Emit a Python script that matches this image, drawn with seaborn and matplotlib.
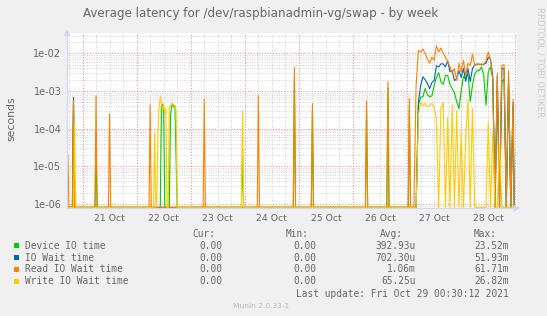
import numpy as np
import pandas as pd
import matplotlib
matplotlib.use("Agg")
import matplotlib.pyplot as plt
import matplotlib.dates as mdates
from matplotlib.ticker import LogLocator, FuncFormatter, NullFormatter
from matplotlib.patches import Rectangle
import seaborn as sns

# ---------------- data ----------------
series_names = ["Device IO time", "IO Wait time", "Read IO Wait time", "Write IO Wait time"]
series_colors = ["#00CC00", "#0066B3", "#FF8000", "#FFCC00"]

# isolated spikes (30-minute samples), seconds
device_spike_times = ["2021-10-20 20:00", "2021-10-21 06:00", "2021-10-22 11:00", "2021-10-22 11:30",
                      "2021-10-22 12:00", "2021-10-22 15:00", "2021-10-22 15:30", "2021-10-22 16:00",
                      "2021-10-22 16:30", "2021-10-22 17:00", "2021-10-22 17:30", "2021-10-23 23:00",
                      "2021-10-24 22:00", "2021-10-25 06:00", "2021-10-26 06:00", "2021-10-26 15:30",
                      "2021-10-27 01:00"]
device_spike_values = [5.5e-4, 2e-5, 4e-4, 4.5e-4, 3e-4, 2e-4, 4e-4, 4.5e-4, 3.8e-4, 4e-4, 2e-5, 2e-5,
                       2.5e-3, 3e-4, 3e-4, 1.2e-3, 4e-4]

iowait_spike_times = ["2021-10-20 20:00"]
iowait_spike_values = [6.8e-4]

read_spike_times = ["2021-10-20 17:30", "2021-10-20 20:00", "2021-10-21 06:00", "2021-10-21 12:00",
                    "2021-10-22 06:00", "2021-10-23 06:00", "2021-10-24 06:00", "2021-10-24 22:00",
                    "2021-10-25 06:00", "2021-10-26 06:00", "2021-10-26 15:30", "2021-10-27 01:00"]
read_spike_values = [2e-5, 5.5e-4, 7.5e-4, 2.5e-4, 4.3e-4, 6.1e-4, 7.5e-4, 4.3e-3, 4.7e-4, 5.5e-4,
                     1.8e-3, 6.3e-4]

write_spike_times = ["2021-10-20 20:30", "2021-10-22 08:00", "2021-10-22 09:00", "2021-10-22 09:30",
                     "2021-10-22 10:00", "2021-10-22 10:30", "2021-10-22 11:00", "2021-10-22 11:30",
                     "2021-10-22 12:00", "2021-10-22 12:30", "2021-10-22 13:00", "2021-10-22 14:30",
                     "2021-10-22 15:00", "2021-10-22 15:30", "2021-10-22 16:00", "2021-10-22 16:30",
                     "2021-10-22 17:00", "2021-10-22 17:30", "2021-10-23 23:00"]
write_spike_values = [1.4e-4, 7.4e-5, 1.5e-6, 1e-4, 4e-4, 7.2e-4, 5e-4, 3e-4, 4.5e-4, 2.5e-4, 3.5e-4,
                      3.8e-4, 4e-4, 4.8e-4, 4.5e-4, 4.2e-4, 4e-4, 3e-4, 3e-4]

# busy period, hourly samples from 2021-10-27 03:00 to 2021-10-28 23:00
device_busy = [0, 0, 4.2e-4, 7e-4, 7e-4, 1.17e-3, 8.1e-4, 7e-4, 7.5e-4, 1.4e-3,
               2.3e-3, 3.1e-3, 1.75e-3, 1.5e-3, 2.6e-3, 2.6e-3, 1.5e-3, 1.17e-3, 9e-4, 5.2e-4,
               3.4e-4, 1.0e-3, 2.5e-3, 2.1e-3, 2.9e-3, 5.3e-4, 1.4e-3, 2.9e-3, 3.5e-3, 3.5e-3,
               4.4e-3, 2.6e-3, 4.2e-4, 3.2e-3, 4.4e-3, 2.1e-3, 0, 1.5e-3, 0, 1.75e-3,
               2.1e-3, 0, 1.5e-3, 0, 4e-4]
iowait_busy = [0, 0, 5.2e-4, 1.4e-3, 2.4e-3, 2.0e-3, 1.6e-3, 1.15e-3, 1.7e-3, 1.9e-3,
               4.7e-3, 4.4e-3, 5.3e-3, 5.3e-3, 4.4e-3, 6.4e-3, 3.3e-3, 3.5e-3, 1.9e-3, 2.1e-3,
               3.5e-3, 2.3e-3, 4.0e-3, 1.8e-3, 4.0e-3, 1.8e-3, 4.0e-3, 5.0e-3, 5.2e-3, 5.2e-3,
               5.0e-3, 5.2e-3, 5.5e-3, 8.0e-3, 7.0e-3, 2.6e-3, 0, 2.5e-3, 0, 4.0e-3,
               4.0e-3, 0, 2.5e-3, 0, 5e-4]
read_busy = [0, 1.5e-3, 1.2e-2, 1.1e-2, 1.3e-2, 1.0e-2, 7.0e-3, 5.5e-3, 8.0e-3, 6.5e-3,
             1.6e-2, 1.1e-2, 1.4e-2, 1.0e-2, 8.0e-3, 6.0e-3, 4.5e-3, 3.0e-3, 4.0e-3, 1.9e-3,
             5.5e-3, 3.2e-3, 6.5e-3, 2.6e-3, 5.5e-3, 4.8e-3, 9.5e-3, 4.8e-3, 5.3e-3, 5.0e-3,
             5.3e-3, 5.0e-3, 6.5e-3, 1.1e-2, 7.0e-3, 2.1e-3, 0, 3.0e-3, 0, 4.8e-3,
             5.0e-3, 0, 3.5e-3, 0, 6e-4]
write_busy = [0, 0, 2.3e-4, 5.2e-4, 4.2e-4, 4.7e-4, 3.8e-4, 4.2e-4, 4.7e-4, 3.8e-4,
              1.7e-4, 0, 3.5e-4, 5e-4, 0, 2e-4, 0, 4.5e-4, 0, 3e-4,
              0, 8e-5, 0, 6e-5, 6e-4, 0, 3.5e-4, 0, 0, 0,
              0, 0, 0, 1.5e-4, 0, 8e-5, 0, 0, 4e-5, 0,
              0, 0, 0, 0, 0]

legend_cur = ["0.00", "0.00", "0.00", "0.00"]
legend_min = ["0.00", "0.00", "0.00", "0.00"]
legend_avg = ["392.93u", "702.30u", "1.06m", "65.25u"]
legend_max = ["23.52m", "51.93m", "61.71m", "26.82m"]

title_text = "Average latency for /dev/raspbianadmin-vg/swap - by week"
last_update_text = "Last update: Fri Oct 29 00:30:12 2021"
footer_text = "Munin 2.0.33-1"
side_text = "RRDTOOL / TOBI OETIKER"

# ---------------- build frame ----------------
quiet_idx = pd.date_range("2021-10-20 17:00", "2021-10-27 02:30", freq="30min").append(
    pd.date_range("2021-10-28 23:30", "2021-10-29 00:30", freq="30min"))
busy_idx = pd.date_range("2021-10-27 03:00", periods=45, freq="1h")


def build(name, spike_t, spike_v, busy):
    s = pd.Series(0.0, index=quiet_idx)
    s.loc[pd.to_datetime(spike_t)] = spike_v
    s = pd.concat([s, pd.Series(busy, index=busy_idx, dtype=float)]).sort_index()
    return pd.DataFrame({"time": s.index, "value": s.values, "series": name})


df = pd.concat([
    build(series_names[0], device_spike_times, device_spike_values, device_busy),
    build(series_names[1], iowait_spike_times, iowait_spike_values, iowait_busy),
    build(series_names[2], read_spike_times, read_spike_values, read_busy),
    build(series_names[3], write_spike_times, write_spike_values, write_busy),
], ignore_index=True)

y_lo, y_hi = 7.8e-7, 3.5e-2
df["shown"] = df["value"].clip(lower=y_lo * 1.04)   # rrdtool puts zero at the floor

# ---------------- style ----------------
sns.set_style("white")
plt.rcParams["font.family"] = ["DejaVu Sans"]
W, H = 547, 316
text_col = "#666666"
grid_gray = "#D0D0D0"
grid_red = "#E89A9A"
axis_col = "#CFD6F8"

fig = plt.figure(figsize=(W / 100, H / 100), dpi=100, facecolor="#F0F0F0")
ax = fig.add_axes([67 / W, 1 - 208 / H, 450 / W, 175 / H])
ax.set_facecolor("white")

sns.lineplot(data=df, x="time", y="shown", hue="series", hue_order=series_names,
             palette=series_colors, estimator=None, linewidth=0.8, legend=False, ax=ax)

ax.set_yscale("log")
ax.set_ylim(y_lo, y_hi)
ax.set_xlim(pd.Timestamp("2021-10-20 17:07"), pd.Timestamp("2021-10-29 00:45"))

ax.yaxis.set_major_locator(LogLocator(base=10, numticks=12))
ax.yaxis.set_minor_locator(LogLocator(base=10, subs=np.arange(2, 10), numticks=100))
ax.yaxis.set_major_formatter(FuncFormatter(lambda v, p: f"{v:.0e}"))
ax.yaxis.set_minor_formatter(NullFormatter())
ax.xaxis.set_major_locator(mdates.HourLocator(byhour=[12]))
ax.xaxis.set_major_formatter(mdates.DateFormatter("%d %b"))
ax.xaxis.set_minor_locator(mdates.HourLocator(byhour=[6, 18]))

dot = (0, (1, 1.5))
ax.grid(which="major", axis="x", color=grid_gray, linestyle=dot, linewidth=0.7)
ax.grid(which="minor", axis="x", color=grid_gray, linestyle=dot, linewidth=0.7)
ax.grid(which="minor", axis="y", color=grid_gray, linestyle=dot, linewidth=0.7)
ax.grid(which="major", axis="y", color=grid_red, linestyle=dot, linewidth=0.8)
for d in pd.date_range("2021-10-21", "2021-10-29", freq="D"):
    ax.axvline(d, color=grid_red, linestyle=dot, linewidth=0.8, zorder=0.8)
ax.set_axisbelow(True)

ax.set_xlabel("")
ax.set_ylabel("")
ax.tick_params(axis="both", which="both", length=0, colors=text_col)
ax.tick_params(axis="y", which="major", labelsize=7, pad=4)
ax.tick_params(axis="x", which="major", labelsize=6.7, pad=4)
for side in ["top", "right"]:
    ax.spines[side].set_visible(False)
for side in ["left", "bottom"]:
    ax.spines[side].set_color(axis_col)
    ax.spines[side].set_linewidth(0.8)

ax.annotate("", xy=(0, 1.035), xytext=(0, 0.99), xycoords="axes fraction",
            arrowprops=dict(arrowstyle="-|>,head_width=0.2,head_length=0.35", color=axis_col, lw=0.8))
ax.annotate("", xy=(1.013, 0), xytext=(0.99, 0), xycoords="axes fraction",
            arrowprops=dict(arrowstyle="-|>,head_width=0.2,head_length=0.35", color=axis_col, lw=0.8))

# ---------------- texts ----------------
def fx(px):
    return px / W


def fy(py):
    return 1 - py / H


fig.text(fx(261), fy(14), title_text, ha="center", va="center", fontsize=8.55, color=text_col)
fig.text(fx(11), fy(119), "seconds", rotation=90, ha="center", va="center", fontsize=7.8, color=text_col)
fig.text(fx(540), fy(62), side_text, rotation=270, ha="center", va="center", fontsize=6.1, color="#CCCCCC")

mono = "DejaVu Sans Mono"
lfs = 6.85
header_y = 234
row_y = [245.7, 257.7, 269.3, 281.3]
for txt, xr in zip(["Cur:", "Min:", "Avg:", "Max:"], [215, 309, 403, 497]):
    fig.text(fx(xr), fy(header_y), txt, ha="right", va="center", fontsize=lfs, family=mono, color=text_col)
for i, name in enumerate(series_names):
    y = row_y[i]
    fig.patches.append(Rectangle((fx(13.5), fy(y + 2.5)), 5 / W, 5 / H, transform=fig.transFigure,
                                 facecolor=series_colors[i], edgecolor="none"))
    fig.text(fx(25), fy(y), name, ha="left", va="center", fontsize=lfs, family=mono, color=text_col)
    for txt, xr in zip([legend_cur[i], legend_min[i], legend_avg[i], legend_max[i]], [222, 316, 416, 509]):
        fig.text(fx(xr), fy(y), txt, ha="right", va="center", fontsize=lfs, family=mono, color=text_col)
fig.text(fx(509), fy(294), last_update_text, ha="right", va="center", fontsize=lfs, family=mono, color=text_col)
fig.text(fx(261), fy(305.7), footer_text, ha="center", va="center", fontsize=5.4, color="#BBBBBB")

fig.savefig("out.png", dpi=100, facecolor=fig.get_facecolor())
